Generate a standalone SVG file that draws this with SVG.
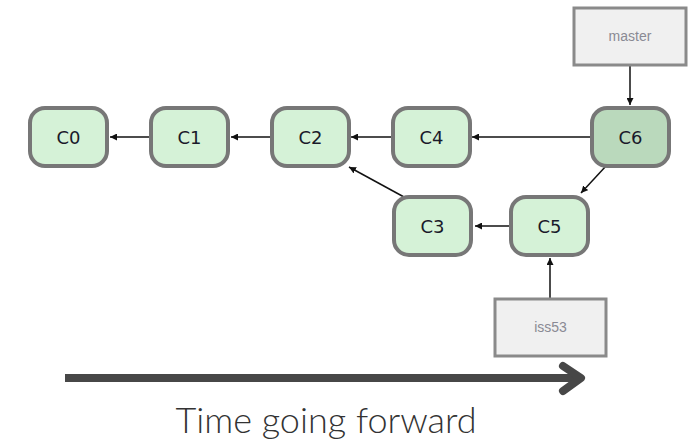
<svg xmlns="http://www.w3.org/2000/svg" width="691" height="446" viewBox="0 0 691 446">
<style>
.n rect{fill:#d5f2d7;stroke:#777;stroke-width:4}
.n text{font-family:"DejaVu Sans",sans-serif;font-size:18px;fill:#1a1a2a;text-anchor:middle}
.b rect{fill:#f0f0f0;stroke:#8a8a8a;stroke-width:3}
.b text{font-family:"Liberation Sans",sans-serif;font-size:14px;fill:#8a8a94;text-anchor:middle}
.e line{stroke:#111;stroke-width:1.5;marker-end:url(#ah)}
</style>
<defs>
<marker id="ah" viewBox="0 0 10 10" refX="10" refY="5" markerWidth="7" markerHeight="7" markerUnits="userSpaceOnUse" orient="auto">
<path d="M0,0 L10,5 L0,10 z" fill="#111"/>
</marker>
</defs>
<rect width="691" height="446" fill="#fff"/>
<g class="e">
<line x1="150" y1="137" x2="110" y2="137"/>
<line x1="272" y1="137" x2="231" y2="137"/>
<line x1="392" y1="137" x2="351" y2="137"/>
<line x1="591" y1="137" x2="472" y2="137"/>
<line x1="606" y1="166" x2="581" y2="193"/>
<line x1="510" y1="226" x2="475" y2="226"/>
<line x1="404" y1="197" x2="349" y2="167"/>
<line x1="630" y1="65" x2="630" y2="105"/>
<line x1="550" y1="298" x2="550" y2="258"/>
</g>
<g id="C0" class="n"><rect x="30" y="108" width="77" height="58" rx="15"/><text x="68.5" y="143.5">C0</text></g>
<g id="C1" class="n"><rect x="151" y="108" width="77" height="58" rx="15"/><text x="189.5" y="143.5">C1</text></g>
<g id="C2" class="n"><rect x="272" y="108" width="77" height="58" rx="15"/><text x="310.5" y="143.5">C2</text></g>
<g id="C4" class="n"><rect x="393" y="108" width="77" height="58" rx="15"/><text x="431.5" y="143.5">C4</text></g>
<g id="C6" class="n"><rect x="592" y="108" width="77" height="58" rx="15" style="fill:#bad9bc"/><text x="630.5" y="143.5">C6</text></g>
<g id="C3" class="n"><rect x="394" y="197" width="77" height="58" rx="15"/><text x="432.5" y="232.5">C3</text></g>
<g id="C5" class="n"><rect x="511" y="197" width="77" height="58" rx="15"/><text x="549.5" y="232.5">C5</text></g>
<g id="master" class="b"><rect x="574" y="8" width="112" height="57"/><text x="630" y="41">master</text></g>
<g id="iss53" class="b"><rect x="495" y="299" width="111" height="57"/><text x="550.5" y="332">iss53</text></g>
<g id="time">
<line x1="65" y1="378" x2="580" y2="378" stroke="#474747" stroke-width="8"/>
<polyline points="563,366 581,378 563,391" fill="none" stroke="#474747" stroke-width="8" stroke-linecap="round" stroke-linejoin="round"/>
<text x="326" y="433" font-family="Lato,sans-serif" font-weight="300" font-size="36" fill="#333" text-anchor="middle">Time going forward</text>
</g>
</svg>
